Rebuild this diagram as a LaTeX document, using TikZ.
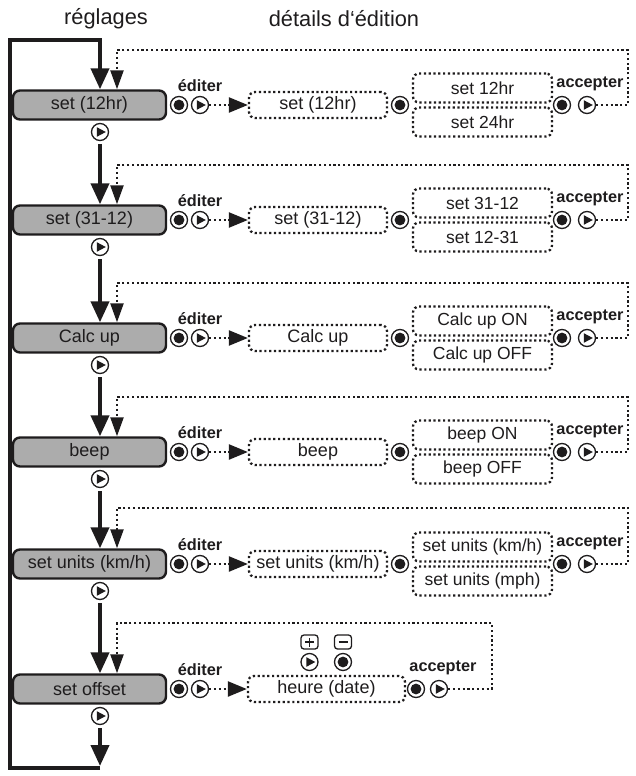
\documentclass[tikz,border=0pt]{standalone}
\usepackage{fontspec}
\setmainfont{Liberation Sans}
\usetikzlibrary{arrows.meta}
\definecolor{boxgray}{RGB}{172,172,172}
\definecolor{ink}{RGB}{30,28,29}
\tikzset{
  graybox/.style={draw=ink, line width=2.4pt, fill=boxgray, rounded corners=7pt,
    minimum width=153pt, minimum height=29pt, inner sep=0pt, text=ink,
    font=\fontsize{18}{20}\selectfont},
  detbox/.style={draw=ink, line width=2.3pt, dash pattern=on 2.2pt off 2.6pt, rounded corners=6pt,
    minimum width=138pt, minimum height=26pt, inner sep=0pt, text=ink,
    font=\fontsize{18}{20}\selectfont},
  optbox/.style={draw=ink, line width=2.3pt, dash pattern=on 2.2pt off 2.6pt, rounded corners=6pt,
    minimum width=139pt, minimum height=29pt, inner sep=0pt, text=ink,
    font=\fontsize{17.5}{20}\selectfont},
  dots/.style={draw=ink, line width=2.3pt, dash pattern=on 2.2pt off 2.6pt},
  thk/.style={draw=ink, line width=4pt, line join=miter},
  bigtip/.style={-{Triangle[length=21pt,width=18pt]}},
  smalltip/.style={-{Triangle[length=19pt,width=13pt]}},
  edtip/.style={-{Triangle[length=19pt,width=15pt]}},
  btn/.style={circle, draw=ink, line width=1.3pt, minimum size=17pt, inner sep=0pt, fill=white},
  dotbtn/.style={btn, path picture={\fill[ink] (path picture bounding box.center) circle (5.4pt);}},
  playbtn/.style={btn, path picture={\fill[ink, shift={(path picture bounding box.center)}]
      (-3.2pt,4.8pt) -- (5.8pt,0pt) -- (-3.2pt,-4.8pt) -- cycle;}},
  sqbtn/.style={rectangle, rounded corners=3pt, draw=ink, line width=1.3pt, minimum width=17pt, minimum height=14pt, inner sep=0pt},
  lbl/.style={font=\bfseries\fontsize{16.3}{18}\selectfont, text=ink, inner sep=0pt},
  hdr/.style={font=\fontsize{21.8}{24}\selectfont, text=ink, inner sep=0pt},
}
\begin{document}
\begin{tikzpicture}[x=1pt,y=-1pt]
\useasboundingbox (0,0) rectangle (635,776);
\node[hdr] (h1) at (106,19) {réglages};
\node[hdr] (h2) at (344,19) {détails d‘édition};

\coordinate (mx) at (100,0);
\coordinate (dx) at (117,0);

\foreach \i/\c/\d/\m/\det/\oa/\ob in {
  1/105/50/{set (12hr)}/{set (12hr)}/{set 12hr}/{set 24hr},
  2/220/165/{set (31-12)}/{set (31-12)}/{set 31-12}/{set 12-31},
  3/338/283/{Calc up}/{Calc up}/{Calc up ON}/{Calc up OFF},
  4/452/397/{beep}/{beep}/{beep ON}/{beep OFF},
  5/564/508/{set units (km/h)}/{set units (km/h)}/{set units (km/h)}/{set units (mph)}}{
  \node[graybox] (b\i) at (89.5,\c) {\m};
  \node[playbtn] (n\i) at (100,\c+27) {};
  \node[lbl] (ed\i) at (200,\c-19) {éditer};
  \node[dotbtn] (ea\i) at (179,\c) {};
  \node[playbtn] (eb\i) at (200,\c) {};
  \node[detbox] (d\i) at (318,\c) {\det};
  \node[dotbtn] (s\i) at (400,\c) {};
  \node[optbox] (oa\i) at (482.5,\c-17) {\oa};
  \node[optbox] (ob\i) at (482.5,\c+17) {\ob};
  \node[dotbtn] (aa\i) at (562,\c) {};
  \node[playbtn] (ab\i) at (587,\c) {};
  \node[lbl] (ac\i) at (590,\c-21) {accepter};
  \coordinate (t\i) at (628,\d);
  \draw[dots, edtip] (eb\i.east) -- (d\i.west);
  \draw[dots, smalltip] (ab\i.east) -- (t\i |- ab\i) -- (t\i) -- (dx |- t\i) -- (dx |- b\i.north);
}

% row 6
\node[graybox] (b6) at (89.5,689) {set offset};
\node[playbtn] (n6) at (100,716) {};
\node[lbl] (ed6) at (200,670) {éditer};
\node[dotbtn] (ea6) at (179,689) {};
\node[playbtn] (eb6) at (200,689) {};
\node[detbox, minimum width=157pt] (d6) at (326.5,689) {heure (date)};
\node[sqbtn] (plus) at (309.5,642) {};
\draw[ink, line width=1.6pt] ([xshift=-4.5pt]plus.center) -- ([xshift=4.5pt]plus.center)
  ([yshift=-4.5pt]plus.center) -- ([yshift=4.5pt]plus.center);
\node[sqbtn] (minus) at (343,642) {};
\draw[ink, line width=1.6pt] ([xshift=-4.5pt]minus.center) -- ([xshift=4.5pt]minus.center);
\node[playbtn] (pp) at (309.5,662) {};
\node[dotbtn] (pm) at (343,662) {};
\node[dotbtn] (aa6) at (416,689) {};
\node[playbtn] (ab6) at (439,689) {};
\node[lbl] (ac6) at (443,668) {accepter};
\coordinate (t6) at (492,623);
\draw[dots, edtip] (eb6.east) -- (d6.west);
\draw[dots, smalltip] (ab6.east) -- (t6 |- ab6) -- (t6) -- (dx |- t6) -- (dx |- b6.north);

% main thick flow
\coordinate (bl) at (10,768);
\coordinate (tl) at (10,40);
\coordinate (br) at (100,768);
\draw[thk, bigtip] (br) -- (bl) -- (tl) -- (mx |- tl) -- (mx |- b1.north);
\foreach \i/\j in {1/2,2/3,3/4,4/5,5/6}{
  \draw[thk, bigtip] ([yshift=-3pt]n\i.south) -- (mx |- b\j.north);
}
\draw[thk, bigtip] ([yshift=-3pt]n6.south) -- (100,766);
\end{tikzpicture}
\end{document}
